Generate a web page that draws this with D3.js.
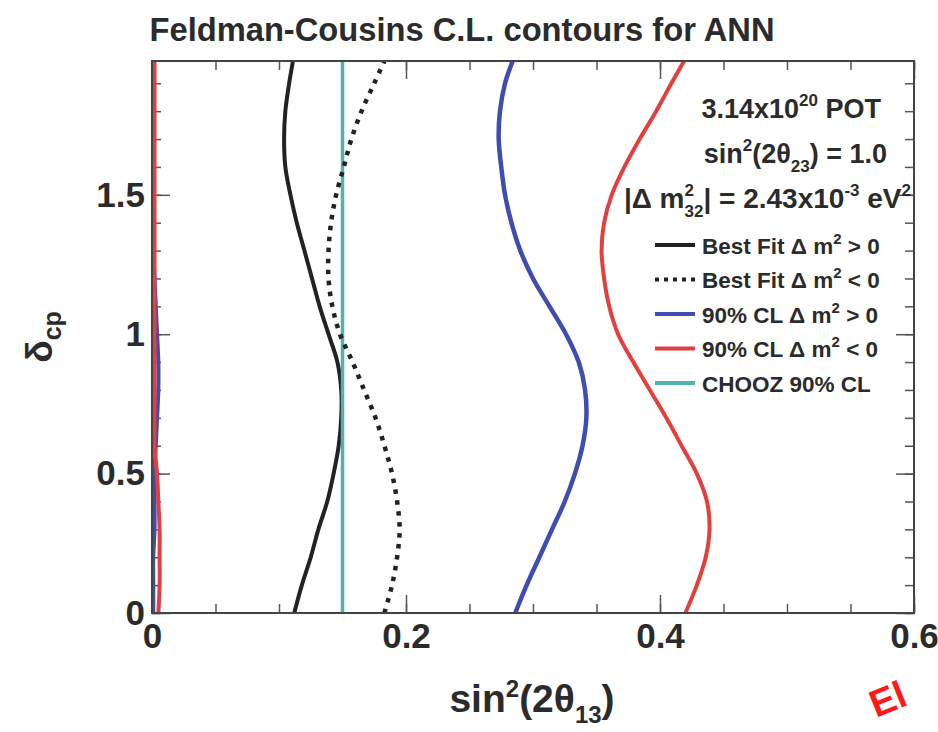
<!DOCTYPE html>
<html>
<head>
<meta charset="utf-8">
<script src="https://cdn.jsdelivr.net/npm/d3@7"></script>
<style>
  body { margin: 0; background: #fff; }
  text { font-family: "Liberation Sans", Arial, sans-serif; font-weight: bold; fill: #2b2b2b; }
</style>
</head>
<body>
<div id="chart"></div>
<script>
// delta_cp values (units of pi) where the contours were read
var deltaCP = [0, 0.1, 0.2, 0.3, 0.4, 0.5, 0.6, 0.7, 0.8, 0.9, 1.0,
               1.1, 1.2, 1.3, 1.4, 1.5, 1.6, 1.7, 1.8, 1.9, 1.98];

// sin^2(2 theta13) for each contour
var bestFitNormal = [0.112, 0.118, 0.125, 0.131, 0.138, 0.143, 0.147, 0.149, 0.149, 0.146, 0.139,
                     0.132, 0.126, 0.120, 0.114, 0.109, 0.105, 0.104, 0.105, 0.108, 0.111];
var bestFitInverted = [0.183, 0.189, 0.193, 0.195, 0.193, 0.189, 0.183, 0.176, 0.167, 0.158, 0.148,
                       0.142, 0.139, 0.139, 0.141, 0.145, 0.151, 0.157, 0.165, 0.175, 0.183];
var cl90NormalUpper = [0.286, 0.295, 0.305, 0.315, 0.325, 0.333, 0.339, 0.342, 0.341, 0.336, 0.326,
                       0.313, 0.300, 0.290, 0.283, 0.278, 0.275, 0.273, 0.274, 0.278, 0.284];
var cl90NormalLower = [0.001, 0.001, 0.001, 0.002, 0.002, 0.002, 0.003, 0.004, 0.005, 0.005, 0.004,
                       0.003, 0.002, 0.001, 0.001, 0.001, 0.001, 0.001, 0.001, 0.001, 0.001];
var cl90InvertedUpper = [0.420, 0.429, 0.436, 0.439, 0.437, 0.429, 0.417, 0.405, 0.392, 0.379, 0.367,
                         0.360, 0.356, 0.354, 0.356, 0.362, 0.372, 0.384, 0.397, 0.409, 0.419];
var cl90InvertedLower = [0.005, 0.006, 0.006, 0.006, 0.005, 0.004, 0.002, 0.002, 0.002, 0.002, 0.002,
                         0.002, 0.002, 0.002, 0.002, 0.002, 0.002, 0.002, 0.002, 0.002, 0.002];
var choozLimit = 0.15;

var xTicks = [0, 0.2, 0.4, 0.6];
var xTickLabels = ["0", "0.2", "0.4", "0.6"];
var yTicks = [0, 0.5, 1, 1.5];
var yTickLabels = ["0", "0.5", "1", "1.5"];

var legendLabels = [
  ["Best Fit \u0394 m", " > 0"],
  ["Best Fit \u0394 m", " < 0"],
  ["90% CL \u0394 m", " > 0"],
  ["90% CL \u0394 m", " < 0"],
  ["CHOOZ 90% CL", ""]
];

var colors = { black: "#222", blue: "#3f4cb0", red: "#e2403f", cyan: "#52b3ae" };

var svgWidth = 938, svgHeight = 732;
var margin = { top: 61, right: 24, bottom: 119, left: 152 };
var chartWidth = svgWidth - margin.left - margin.right;
var chartHeight = svgHeight - margin.top - margin.bottom;

var svg = d3.select("#chart").append("svg")
  .attr("width", svgWidth)
  .attr("height", svgHeight);

var chartGroup = svg.append("g")
  .attr("transform", `translate(${margin.left}, ${margin.top})`);

var xScale = d3.scaleLinear().domain([0, 0.6]).range([0, chartWidth]);
var yScale = d3.scaleLinear().domain([0, 1.98]).range([chartHeight, 0]);

// ticks: major + minor, all pointing inward, on all four sides
function styleAxis(g) {
  g.select(".domain").remove();
  g.selectAll("line").attr("stroke", "#555").attr("stroke-width", 1.5);
}
var xMinor = d3.range(0, 0.601, 0.05);
var yMinor = d3.range(0, 1.98, 0.1);

chartGroup.append("g").attr("transform", `translate(0, ${chartHeight})`)
  .call(d3.axisBottom(xScale).tickValues(xMinor).tickSize(-9).tickFormat(""))
  .call(styleAxis);
chartGroup.append("g")
  .call(d3.axisTop(xScale).tickValues(xMinor).tickSize(-9).tickFormat(""))
  .call(styleAxis);
chartGroup.append("g")
  .call(d3.axisLeft(yScale).tickValues(yMinor).tickSize(-9).tickFormat(""))
  .call(styleAxis);
chartGroup.append("g").attr("transform", `translate(${chartWidth}, 0)`)
  .call(d3.axisRight(yScale).tickValues(yMinor).tickSize(-9).tickFormat(""))
  .call(styleAxis);

var bottomAxis = chartGroup.append("g").attr("transform", `translate(0, ${chartHeight})`)
  .call(d3.axisBottom(xScale).tickValues(xTicks).tickSize(-18).tickPadding(10)
    .tickFormat((d, i) => xTickLabels[i]))
  .call(styleAxis);
bottomAxis.selectAll("text").attr("font-size", 35).attr("fill", "#2b2b2b");

chartGroup.append("g")
  .call(d3.axisTop(xScale).tickValues(xTicks).tickSize(-18).tickFormat(""))
  .call(styleAxis);

var leftAxis = chartGroup.append("g")
  .call(d3.axisLeft(yScale).tickValues(yTicks).tickSize(-18).tickPadding(7)
    .tickFormat((d, i) => yTickLabels[i]))
  .call(styleAxis);
leftAxis.selectAll("text").attr("font-size", 35).attr("fill", "#2b2b2b");

chartGroup.append("g").attr("transform", `translate(${chartWidth}, 0)`)
  .call(d3.axisRight(yScale).tickValues(yTicks).tickSize(-18).tickFormat(""))
  .call(styleAxis);

// contours
var line = d3.line()
  .x(d => xScale(d[0]))
  .y(d => yScale(d[1]))
  .curve(d3.curveCatmullRom);

function drawContour(values, color, width, dash) {
  chartGroup.append("path")
    .datum(values.map((v, i) => [v, deltaCP[i]]))
    .attr("d", line)
    .attr("fill", "none")
    .attr("stroke", color)
    .attr("stroke-width", width)
    .attr("stroke-dasharray", dash || null);
}

drawContour(bestFitNormal, colors.black, 4);
chartGroup.append("line")
  .attr("x1", xScale(choozLimit)).attr("x2", xScale(choozLimit))
  .attr("y1", yScale(0)).attr("y2", yScale(1.98))
  .attr("stroke", colors.cyan).attr("stroke-width", 3.5);
drawContour(bestFitInverted, colors.black, 4.5, "4.5,6.5");
drawContour(cl90NormalLower, colors.blue, 4);
drawContour(cl90NormalUpper, colors.blue, 4.5);
drawContour(cl90InvertedLower, colors.red, 4);
drawContour(cl90InvertedUpper, colors.red, 4);

// frame
chartGroup.append("rect")
  .attr("width", chartWidth).attr("height", chartHeight)
  .attr("fill", "none").attr("stroke", "#444").attr("stroke-width", 2);

// title
svg.append("text")
  .attr("x", 462).attr("y", 41)
  .attr("text-anchor", "middle")
  .attr("font-size", 33)
  .attr("textLength", 625)
  .attr("lengthAdjust", "spacingAndGlyphs")
  .text("Feldman-Cousins C.L. contours for ANN");

// info text, right aligned
var info1 = svg.append("text").attr("x", 881).attr("y", 118)
  .attr("text-anchor", "end").attr("font-size", 27);
info1.append("tspan").text("3.14x10");
info1.append("tspan").attr("dy", -12).attr("font-size", 17).text("20");
info1.append("tspan").attr("dy", 12).text(" POT");

var info2 = svg.append("text").attr("x", 887).attr("y", 163)
  .attr("text-anchor", "end").attr("font-size", 27);
info2.append("tspan").text("sin");
info2.append("tspan").attr("dy", -12).attr("font-size", 17).text("2");
info2.append("tspan").attr("dy", 12).text("(2\u03b8");
info2.append("tspan").attr("dy", 9).attr("font-size", 17).text("23");
info2.append("tspan").attr("dy", -9).text(") = 1.0");

var info3 = svg.append("text").attr("x", 911).attr("y", 208)
  .attr("text-anchor", "end").attr("font-size", 28);
info3.append("tspan").text("|\u0394 m");
info3.append("tspan").attr("dy", -12).attr("font-size", 17).text("2");
info3.append("tspan").attr("dx", -9.5).attr("dy", 21).attr("font-size", 17).text("32");
info3.append("tspan").attr("dy", -9).text("| = 2.43x10");
info3.append("tspan").attr("dy", -12).attr("font-size", 17).text("-3");
info3.append("tspan").attr("dy", 12).text(" eV");
info3.append("tspan").attr("dy", -12).attr("font-size", 17).text("2");

// legend
var legendStyles = [
  { color: colors.black, dash: null },
  { color: colors.black, dash: "4,5" },
  { color: colors.blue, dash: null },
  { color: colors.red, dash: null },
  { color: colors.cyan, dash: null }
];
var legend = svg.append("g").attr("transform", "translate(655, 245)");
legendLabels.forEach(function(lab, i) {
  var row = legend.append("g").attr("transform", `translate(0, ${i * 34.5})`);
  row.append("line")
    .attr("x1", 0).attr("x2", 40).attr("y1", 0).attr("y2", 0)
    .attr("stroke", legendStyles[i].color).attr("stroke-width", 4)
    .attr("stroke-dasharray", legendStyles[i].dash);
  var t = row.append("text").attr("x", 47).attr("y", 8.5).attr("font-size", 22.5);
  t.append("tspan").text(lab[0]);
  if (lab[1]) {
    t.append("tspan").attr("dy", -10).attr("font-size", 15).text("2");
    t.append("tspan").attr("dy", 10).text(lab[1]);
  }
});

// axis titles
var yTitle = svg.append("text")
  .attr("transform", "translate(52, 337) rotate(-90)")
  .attr("text-anchor", "middle").attr("font-size", 37);
yTitle.append("tspan").text("\u03b4");
yTitle.append("tspan").attr("dy", 9).attr("font-size", 25).text("cp");

var xTitle = svg.append("text")
  .attr("x", 532).attr("y", 712)
  .attr("text-anchor", "middle").attr("font-size", 39);
xTitle.append("tspan").text("sin");
xTitle.append("tspan").attr("dy", -15).attr("font-size", 24).text("2");
xTitle.append("tspan").attr("dy", 15).text("(2\u03b8");
xTitle.append("tspan").attr("dy", 11).attr("font-size", 24).text("13");
xTitle.append("tspan").attr("dy", -11).text(")");

// red mark in the corner
svg.append("text")
  .attr("transform", "translate(876, 718) rotate(-22)")
  .attr("font-size", 38).style("fill", "#ff1a1a")
  .text("El");
</script>
</body>
</html>
